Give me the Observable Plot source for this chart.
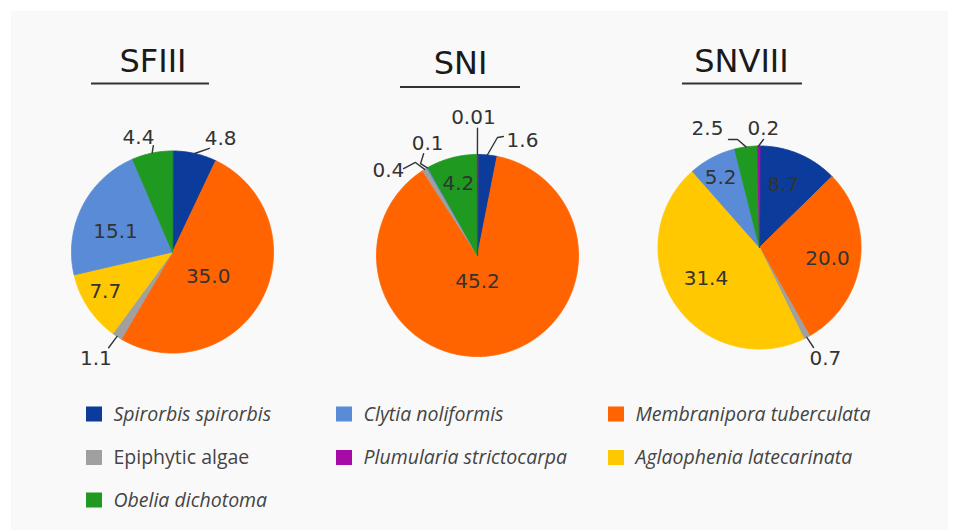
<!DOCTYPE html>
<html><head><meta charset="utf-8">
<script src="https://cdn.jsdelivr.net/npm/d3@7"></script>
<script src="https://cdn.jsdelivr.net/npm/@observablehq/plot@0.6"></script>
<style>
body{margin:0;background:#fff}
#chart svg{display:block;background:linear-gradient(#f9f9f9,#f9f9f9) 11px 11px / 937px 519px no-repeat, #fff}
</style>
</head><body><div id="chart"></div>
<script>
// ---- data ----
const species = ["Spirorbis spirorbis","Membranipora tuberculata","Epiphytic algae","Aglaophenia latecarinata","Clytia noliformis","Obelia dichotoma","Plumularia strictocarpa"];
const speciesColors = ["#0b3c9c","#ff6400","#a0a0a0","#ffc800","#5a8bd6","#1f991f","#a80aa8"];
const italicSpecies = ["Spirorbis spirorbis","Membranipora tuberculata","Aglaophenia latecarinata","Clytia noliformis","Obelia dichotoma","Plumularia strictocarpa"];
const legendOrder = ["Spirorbis spirorbis","Clytia noliformis","Membranipora tuberculata","Epiphytic algae","Plumularia strictocarpa","Aglaophenia latecarinata","Obelia dichotoma"];
const sites = ["SFIII","SNI","SNVIII"];
const valuesSFIII  = [4.8, 35.0, 1.1, 7.7, 15.1, 4.4, 0];
const valuesSNI    = [1.6, 45.2, 0.4, 0, 0.1, 4.2, 0.01];
const valuesSNVIII = [8.7, 20.0, 0.7, 31.4, 5.2, 2.5, 0.2];
const siteValues = {SFIII: valuesSFIII, SNI: valuesSNI, SNVIII: valuesSNVIII};

// ---- layout (positions / label placement) ----
const pieLayout = {
  SFIII:  {cx:172,   cy:251.5, r:101,   tx:152.5, ty:73,   rx1:91,  rx2:209, ry:83},
  SNI:    {cx:477,   cy:255,   r:101,   tx:460,   ty:75,   rx1:400, rx2:520, ry:86.5},
  SNVIII: {cx:759,   cy:247,   r:101.5, tx:741,   ty:72.5, rx1:682, rx2:802, ry:83}
};
// inside: [angle, radiusFactor]; outside: text [angle, rf], leader points [[angle|"mid", rf], ...]
const placement = {
  SFIII: [
    {out:[23,1.22], lead:[["mid",1],[19.6,1.09]]},
    {in:[124.8,0.43]},
    {out:[215.7,1.3], lead:[["mid",1],[213.7,1.14]]},
    {in:[239.8,0.77]},
    {in:[290,0.6]},
    {out:[343.4,1.18], lead:[["mid",1],[349.8,1.07]]},
    null
  ],
  SNI: [
    {out:[21.4,1.22], lead:[["mid",1],[9.6,1.185],[12.3,1.206]]},
    {in:[180,0.26]},
    {out:[313.7,1.22], lead:[["mid",1],[326.3,1.107],[319.6,1.13]]},
    null,
    {out:[336,1.215], lead:[["mid",1],[328.2,1.07],[332.1,1.14]]},
    {in:[345.2,0.74]},
    {out:[358.3,1.37], lead:[["mid",1],[0,1.26]]}
  ],
  SNVIII: [
    {in:[20.9,0.66]},
    {in:[99.5,0.68]},
    {out:[149.3,1.27], lead:[["mid",1],[151.6,1.12]]},
    {in:[239.9,0.61]},
    {in:[331,0.79]},
    {out:[336.4,1.28], lead:[["mid",1],[348.5,1.086],[344,1.107]]},
    {out:[1.9,1.17], lead:[["mid",1],[2.1,1.065]]}
  ]
};
const legendCols = [86, 336, 608];
const legendRowsY = [414, 457.5, 500];

// ---- derived geometry ----
const fmt = v => v >= 0.05 ? v.toFixed(1) : String(v);
const rad = Math.PI/180;
const polar = (L, aDeg, rf) => ({x: L.cx + L.r*rf*Math.sin(aDeg*rad), y: L.cy - L.r*rf*Math.cos(aDeg*rad)});

const slicePts = [], labelPts = [], leaderPts = [];
for (const site of sites) {
  const L = pieLayout[site];
  const rows = species.map((s,i) => ({species:s, value:siteValues[site][i], i}));
  const arcs = d3.pie().sort(null).value(d => d.value)(rows);
  for (const a of arcs) {
    if (a.data.value <= 0) continue;
    const id = site + "|" + a.data.species;
    const s0 = a.startAngle/rad, s1 = a.endAngle/rad;
    const n = Math.max(2, Math.ceil((s1 - s0)/0.5));
    slicePts.push({id, species:a.data.species, ...polar(L,0,0)});
    for (let k=0;k<=n;k++) slicePts.push({id, species:a.data.species, ...polar(L, s0 + (s1-s0)*k/n, 1)});
    const mid = (s0+s1)/2;
    const p = placement[site][a.data.i];
    if (!p) continue;
    const text = fmt(a.data.value);
    if (p.in) labelPts.push({text, ...polar(L, p.in[0], p.in[1])});
    else {
      labelPts.push({text, ...polar(L, p.out[0], p.out[1])});
      p.lead.forEach(([ang, rf]) => leaderPts.push({id, ...polar(L, ang === "mid" ? mid : ang, rf)}));
    }
  }
}
const titles = sites.map(s => ({site:s, x:pieLayout[s].tx, y:pieLayout[s].ty - 11.7, x1:pieLayout[s].rx1, x2:pieLayout[s].rx2, ry:pieLayout[s].ry}));
const legend = legendOrder.map((s,i) => {
  const c = i % 3, r = Math.floor(i/3);
  return {species:s, italic: italicSpecies.includes(s), x1:legendCols[c], x2:legendCols[c]+16, y1:legendRowsY[r]-7.5, y2:legendRowsY[r]+7.5, tx:legendCols[c]+27, ty:legendRowsY[r]};
});

const chart = Plot.plot({
  width:959, height:530, margin:0,
  x:{domain:[0,959], range:[0,959], axis:null},
  y:{domain:[0,530], range:[0,530], axis:null},
  color:{domain:species, range:speciesColors},
  marks:[
    Plot.line(slicePts, {x:"x", y:"y", z:"id", fill:"species", stroke:"species", strokeWidth:0.9, curve:"linear-closed"}),
    Plot.line(leaderPts, {x:"x", y:"y", z:"id", stroke:"#333", strokeWidth:1.4}),
    Plot.text(labelPts, {x:"x", y:"y", text:"text", fontSize:20, fill:"#333", fontFamily:"DejaVu Sans"}),
    Plot.text(titles, {x:"x", y:"y", text:"site", fontSize:32, fill:"#1a1a1a", fontFamily:"DejaVu Sans"}),
    Plot.ruleY(titles, {y:"ry", x1:"x1", x2:"x2", stroke:"#333", strokeWidth:2}),
    Plot.rect(legend, {x1:"x1", x2:"x2", y1:"y1", y2:"y2", fill:"species"}),
    Plot.text(legend.filter(d => d.italic), {x:"tx", y:"ty", text:"species", textAnchor:"start", fontSize:19.5, fontStyle:"italic", fill:"#444", fontFamily:"Open Sans"}),
    Plot.text(legend.filter(d => !d.italic), {x:"tx", y:"ty", text:"species", textAnchor:"start", fontSize:19.5, fill:"#444", fontFamily:"Open Sans"})
  ]
});
document.getElementById("chart").append(chart);
</script>
</body></html>
